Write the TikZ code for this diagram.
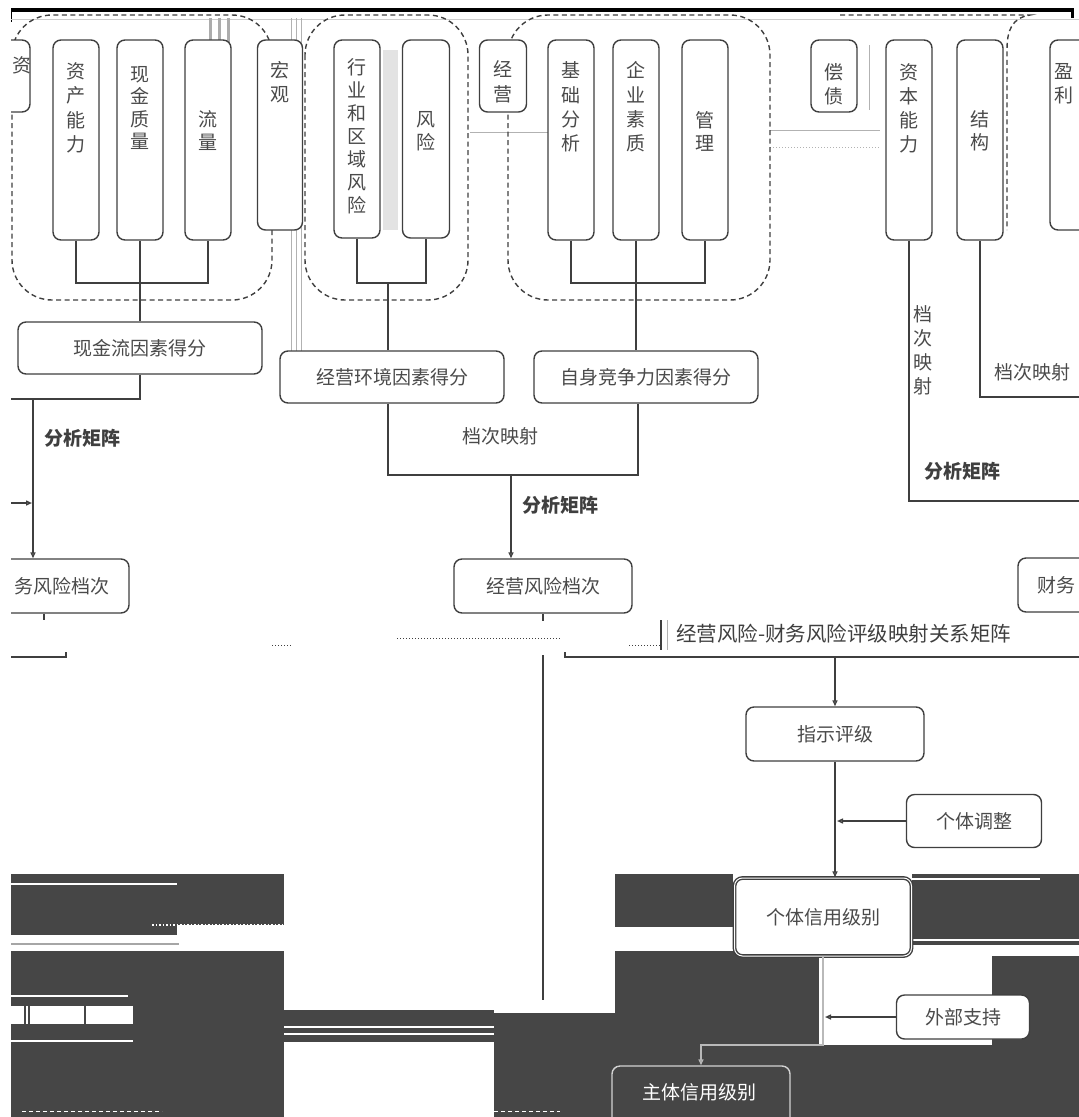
\documentclass[tikz,border=0pt]{standalone}
\usepackage{fontspec}
\setmainfont{Noto Sans CJK SC}
\usetikzlibrary{arrows.meta}
\definecolor{lc}{HTML}{3F3F3F}
\definecolor{tc}{HTML}{4A4A4A}
\definecolor{dk}{HTML}{464646}
\begin{document}
\begin{tikzpicture}[x=1pt,y=-1pt,
  box/.style={draw=lc, line width=1.4pt, rounded corners=8pt, fill=white, inner sep=0pt},
  vtxt/.style={text=tc, font=\fontsize{19}{24.5}\selectfont, align=center, inner sep=0pt},
  htxt/.style={text=tc, font=\fontsize{19}{23}\selectfont, inner sep=0pt},
  lbl/.style={text=lc, font=\fontsize{19}{23}\selectfont\bfseries, inner sep=0pt},
  conn/.style={draw=lc, line width=1.4pt},
  arr/.style={conn, -{Triangle[open,length=6pt,width=5pt]}},
  grp/.style={draw=lc, line width=1.4pt, dash pattern=on 5pt off 3.5pt, rounded corners=40pt},
  stripe/.style={draw=gray!60, line width=1pt},
]
\useasboundingbox (0,0) rectangle (1079,1117);
\begin{scope}
\clip (11,0) rectangle (1079,1117);
% ---- dark artefact regions ----
\fill[dk] (11,874) rectangle (284,925);
\fill[dk] (11,925) rectangle (177,935);
\fill[dk] (11,951) rectangle (284,1117);
\fill[dk] (284,1010) rectangle (494,1042);
\fill[dk] (494,1013) rectangle (615,1117);
\fill[dk] (615,874) rectangle (733,927);
\fill[dk] (615,951) rectangle (819,1117);
\fill[dk] (912,874) rectangle (1079,945);
\fill[dk] (992,956) rectangle (1079,1045);
\fill[dk] (774,1045) rectangle (1079,1117);
\draw[white, line width=1.5pt] (11,884) -- (177,884);
\draw[white, line width=1.5pt, dotted] (152,925) -- (284,925);
\draw[gray!70, line width=1.5pt] (11,944) -- (179,944);
\draw[white, line width=1.5pt] (11,996) -- (128,996);
\fill[white] (11,1006) rectangle (133,1024);
\draw[dk, line width=1.5pt] (25,1006) -- (25,1024) (29,1006) -- (29,1024) (85,1006) -- (85,1024);
\draw[white, line width=1.5pt] (11,1041) -- (133,1041);
\draw[white, line width=1.2pt] (284,1027) -- (494,1027) (284,1034) -- (494,1034);
\draw[white, line width=1.2pt] (294,1008) -- (615,1008);
\draw[white, line width=1.2pt] (912,879) -- (1040,879) (912,940) -- (1079,940);
\draw[white, line width=1pt, dash pattern=on 4pt off 3pt] (22,1111) -- (162,1111) (494,1111) -- (560,1111);
% ---- top frame line ----
\draw[line width=3.5pt, black] (10,10) -- (1074,10);
\draw[line width=3pt, black] (1072,10) -- (1072,18);
\draw[line width=1pt, black] (11,10) -- (11,22);
\draw[gray!40, line width=1pt] (11,19) -- (1079,19);
% ---- stripes / artefacts at top ----
\draw[gray!65, line width=3pt] (210,18) -- (210,115) (219,18) -- (219,115) (228,18) -- (228,115);
\draw[stripe] (291,18) -- (291,351) (296,18) -- (296,351) (301,18) -- (301,351);
\fill[gray!22] (383,50) rectangle (398,230);
\draw[gray!55, line width=3pt] (27,45) -- (27,110);
\draw[stripe] (470,132) -- (548,132) (770,130) -- (880,130);
\draw[stripe, dotted] (770,147) -- (880,147);
\draw[stripe] (869,45) -- (869,110);
% ---- dashed groups ----
\draw[grp] (12,15) rectangle (272,300);
\draw[grp] (305,15) rectangle (468,300);
\draw[grp] (508,15) rectangle (770,300);
\draw[grp, rounded corners=0pt] (840,15) -- (1030,15) .. controls (1012,18) and (1007,30) .. (1007,50) -- (1007,230);
% ---- top vertical boxes ----
\node[box, minimum width=50pt, minimum height=72pt] (b0) at (5,76) {};
\node[box, minimum width=46pt, minimum height=200pt] (b1) at (76,140) {};
\node[box, minimum width=46pt, minimum height=200pt] (b2) at (140,140) {};
\node[box, minimum width=46pt, minimum height=200pt] (b3) at (208,140) {};
\node[box, minimum width=45pt, minimum height=190pt] (b4) at (280,135) {};
\node[box, minimum width=46pt, minimum height=198pt] (b5) at (357,139) {};
\node[box, minimum width=47pt, minimum height=198pt] (b6) at (426,139) {};
\node[box, minimum width=47pt, minimum height=72pt] (b7) at (503,76) {};
\node[box, minimum width=46pt, minimum height=200pt] (b8) at (571,140) {};
\node[box, minimum width=46pt, minimum height=200pt] (b9) at (636,140) {};
\node[box, minimum width=46pt, minimum height=200pt] (b10) at (705,140) {};
\node[box, minimum width=46pt, minimum height=72pt] (b11) at (834,76) {};
\node[box, minimum width=46pt, minimum height=200pt] (b12) at (909,140) {};
\node[box, minimum width=46pt, minimum height=200pt] (b13) at (980,140) {};
\node[box, minimum width=50pt, minimum height=190pt] (b14) at (1075,135) {};
\node[vtxt] (t0) at (22,65) {资};
\node[vtxt] (t1) at (76,108) {资\\产\\能\\力};
\node[vtxt, font=\fontsize{19}{22.5}\selectfont] (t2) at (140,108) {现\\金\\质\\量};
\node[vtxt, font=\fontsize{19}{23}\selectfont] (t3) at (208,131) {流\\量};
\node[vtxt] (t4) at (280,82) {宏\\观};
\node[vtxt, font=\fontsize{19}{23}\selectfont] (t5) at (357,136) {行\\业\\和\\区\\域\\风\\险};
\node[vtxt, font=\fontsize{19}{23}\selectfont] (t6) at (426,131) {风\\险};
\node[vtxt] (t7) at (503,82) {经\\营};
\node[vtxt, font=\fontsize{19}{24.3}\selectfont] (t8) at (571,107) {基\\础\\分\\析};
\node[vtxt, font=\fontsize{19}{24.3}\selectfont] (t9) at (636,107) {企\\业\\素\\质};
\node[vtxt, font=\fontsize{19}{23}\selectfont] (t10) at (705,131) {管\\理};
\node[vtxt] (t11) at (834,84) {偿\\债};
\node[vtxt, font=\fontsize{19}{24}\selectfont] (t12) at (909,108) {资\\本\\能\\力};
\node[vtxt, font=\fontsize{19}{23}\selectfont] (t13) at (980,131) {结\\构};
\node[vtxt] (t14) at (1064,84) {盈\\利};
% ---- factor score boxes ----
\node[box, htxt, minimum width=244pt, minimum height=52pt] (m1) at (140,348) {现金流因素得分};
\node[box, htxt, minimum width=224pt, minimum height=52pt] (m2) at (392,377) {经营环境因素得分};
\node[box, htxt, minimum width=224pt, minimum height=52pt] (m3) at (646,377) {自身竞争力因素得分};
% group connectors
\draw[conn] (b1.south) -- (b1.south |- 0,283) -- (b3.south |- 0,283) -- (b3.south);
\draw[conn] (b2.south) -- (b2.south |- m1.north);
\coordinate (j2) at (388,283);
\draw[conn] (b5.south) -- (b5.south |- j2) -- (b6.south |- j2) -- (b6.south);
\draw[conn] (j2) -- (j2 |- m2.north);
\coordinate (j6) at (638,283);
\draw[conn] (b8.south) -- (b8.south |- j6) -- (b10.south |- j6) -- (b10.south);
\draw[conn] (b9.south) -- (b9.south |- m3.north);
% ---- rating boxes ----
\node[box, minimum width=172pt, minimum height=54pt] (f1) at (43,586) {};
\node[htxt, anchor=west] (f1t) at (14,586) {务风险档次};
\node[box, htxt, minimum width=178pt, minimum height=54pt] (f2) at (543,586) {经营风险档次};
\node[box, minimum width=178pt, minimum height=54pt] (f3) at (1107,585) {};
\node[htxt, anchor=west] (f3t) at (1037,585) {财务};
% left branch
\coordinate (l1) at (11,399);
\draw[conn] (m1.south) |- (l1);
\coordinate (l2) at (33,399);
\draw[arr] (l2) -- (l2 |- f1.north);
\coordinate (l3) at (11,503);
\coordinate (l4) at (32,503);
\draw[arr] (l3) -- (l4);
\node[lbl] (a1) at (82,438) {分析矩阵};
% middle branch
\coordinate (j3) at (388,475);
\coordinate (j4) at (638,475);
\draw[conn] (j3 |- m2.south) -- (j3) -- (j4) -- (j4 |- m3.south);
\coordinate (j5) at (511,475);
\draw[arr] (j5) -- (j5 |- f2.north);
\node[htxt] (a2) at (500,436) {档次映射};
\node[lbl] (a3) at (560,505) {分析矩阵};
% right branch
\coordinate (r1) at (1079,501);
\draw[conn] (b12.south) |- (r1);
\coordinate (r2) at (1079,397);
\draw[conn] (b13.south) |- (r2);
\node[vtxt, font=\fontsize{19}{24}\selectfont] (a4) at (923,350) {档\\次\\映\\射};
\node[htxt] (a5) at (1032,372) {档次映射};
\node[lbl] (a6) at (962,471) {分析矩阵};
% ---- mapping matrix row ----
\draw[conn] (f1.south -| 44,0) -- (44,620);
\draw[conn] (11,657) -- (66,657) -- (66,652);
\draw[conn] (f2.south) -- ++(0,7);
\coordinate (k1) at (543,655);
\coordinate (k2) at (543,1000);
\draw[conn] (k1) -- (k2);
\coordinate (k3) at (565,652);
\draw[conn] (k3) -- (565,657) -- (1079,657);
\draw[lc, dotted, line width=1pt] (272,645) -- (292,645) (397,638) -- (560,638) (629,645) -- (661,645);
\draw[lc, line width=2pt] (661,620) -- (661,650);
\draw[gray!60, line width=0.8pt] (667,620) -- (667,650);
\node[htxt, text=lc, anchor=west, font=\fontsize{20.5}{24}\selectfont] (a7) at (676,634) {经营风险-财务风险评级映射关系矩阵};
% ---- final rating chain ----
\node[box, htxt, minimum width=178pt, minimum height=54pt] (z1) at (835,734) {指示评级};
\coordinate (k4) at (835,657);
\draw[arr] (k4) -- (z1.north);
\node[box, htxt, minimum width=135pt, minimum height=53pt] (z2) at (974,821) {个体调整};
\node[box, htxt, minimum width=177pt, minimum height=78pt, double=white, double distance=1pt] (z3) at (823,917) {个体信用级别};
\draw[arr] (z1.south) -- (z1.south |- z3.north);
\coordinate (k5) at (837,821);
\draw[arr] (z2.west) -- (k5);
\node[box, htxt, minimum width=133pt, minimum height=44pt] (z4) at (963,1017) {外部支持};
\coordinate (k7) at (825,1017);
\draw[arr] (z4.west) -- (k7);
\node[box, draw=gray!35, fill=dk, text=white, htxt, minimum width=178pt, minimum height=64pt] (z5) at (701,1098) {};
\node[htxt, text=white] (t15) at (699,1092) {主体信用级别};
\coordinate (k6) at (823,1045);
\draw[conn, draw=gray!55, -{Triangle[open,length=6pt,width=5pt]}] (z3.south) -- (k6) -| (z5.north);
\end{scope}
\end{tikzpicture}
\end{document}
